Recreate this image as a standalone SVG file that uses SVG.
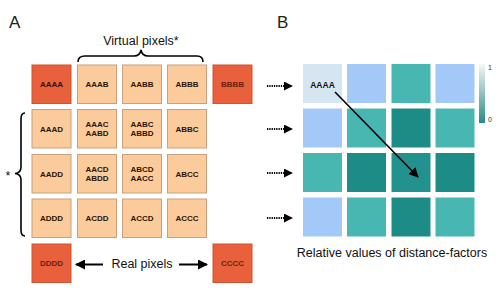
<svg xmlns="http://www.w3.org/2000/svg" width="500" height="294" viewBox="0 0 500 294">
<defs>
<style>
text{font-family:"Liberation Sans",Arial,sans-serif;}
.lbl{font-size:8px;font-weight:bold;fill:#2a1408;text-anchor:middle;}
.dlbl{font-size:8px;font-weight:bold;fill:#6a1e0c;text-anchor:middle;}
.lo{fill:#FCCB9B;stroke:#C9A07C;stroke-width:1;}
.dk{fill:#E8603C;stroke:#D0522F;stroke-width:1;}
.big{font-size:17px;fill:#222;}
.cap{font-size:12.5px;fill:#111;}
.b0{fill:#D5E6F2}.b1{fill:#A2C9F7}.b2{fill:#48B7B1}.b3{fill:#1D8B86}.b4{fill:#23928E}
</style>
<marker id="ah" viewBox="0 0 10 10" refX="9" refY="5" markerWidth="10" markerHeight="10" markerUnits="userSpaceOnUse" orient="auto">
<path d="M0,0 L10,5 L0,10 z" fill="#000"/>
</marker>
<marker id="ah2" viewBox="0 0 10 10" refX="9" refY="5" markerWidth="9" markerHeight="9" markerUnits="userSpaceOnUse" orient="auto">
<path d="M0,0 L10,5 L0,10 z" fill="#000"/>
</marker>
<linearGradient id="cb" x1="0" y1="0" x2="0" y2="1">
<stop offset="0" stop-color="#F4F7F7"/>
<stop offset="1" stop-color="#2A8A84"/>
</linearGradient>
</defs>
<rect width="500" height="294" fill="#fff"/>
<text class="big" x="9" y="28">A</text>
<text class="big" x="277" y="28">B</text>
<text class="cap" x="141" y="45" text-anchor="middle">Virtual pixels*</text>
<path d="M78,62 Q78,56 85,56 L134,56 Q140,56 141,50 Q142,56 148,56 L197,56 Q203,56 203,62" fill="none" stroke="#000" stroke-width="1.6"/>
<path d="M25,113 Q21,113 21,119 L21,167 Q21,173 15,173.5 Q21,174 21,180 L21,230 Q21,236 25,236" fill="none" stroke="#000" stroke-width="1.6"/>
<text class="cap" x="8" y="180" text-anchor="middle">*</text>
<g id="panelA">
<g id="AAAA"><rect class="dk" x="32" y="65" width="39" height="38.5"/><text class="lbl" x="51.5" y="87">AAAA</text></g>
<g id="AAAB"><rect class="lo" x="77.5" y="65" width="39" height="38.5"/><text class="lbl" x="97" y="87">AAAB</text></g>
<g id="AABB"><rect class="lo" x="122.5" y="65" width="39" height="38.5"/><text class="lbl" x="142" y="87">AABB</text></g>
<g id="ABBB"><rect class="lo" x="167.5" y="65" width="39" height="38.5"/><text class="lbl" x="187" y="87">ABBB</text></g>
<g id="BBBB"><rect class="dk" x="213" y="65" width="39" height="38.5"/><text class="dlbl" x="232.5" y="87">BBBB</text></g>
<g id="AAAD"><rect class="lo" x="32" y="109.5" width="39" height="38.5"/><text class="lbl" x="51.5" y="131.5">AAAD</text></g>
<g id="AAAC"><rect class="lo" x="77.5" y="109.5" width="39" height="38.5"/><text class="lbl" x="97" y="127">AAAC</text><text class="lbl" x="97" y="136">AABD</text></g>
<g id="AABC"><rect class="lo" x="122.5" y="109.5" width="39" height="38.5"/><text class="lbl" x="142" y="127">AABC</text><text class="lbl" x="142" y="136">ABBD</text></g>
<g id="ABBC"><rect class="lo" x="167.5" y="109.5" width="39" height="38.5"/><text class="lbl" x="187" y="131.5">ABBC</text></g>
<g id="AADD"><rect class="lo" x="32" y="154.5" width="39" height="38.5"/><text class="lbl" x="51.5" y="176.5">AADD</text></g>
<g id="AACD"><rect class="lo" x="77.5" y="154.5" width="39" height="38.5"/><text class="lbl" x="97" y="172">AACD</text><text class="lbl" x="97" y="181">ABDD</text></g>
<g id="ABCD"><rect class="lo" x="122.5" y="154.5" width="39" height="38.5"/><text class="lbl" x="142" y="172">ABCD</text><text class="lbl" x="142" y="181">AACC</text></g>
<g id="ABCC"><rect class="lo" x="167.5" y="154.5" width="39" height="38.5"/><text class="lbl" x="187" y="176.5">ABCC</text></g>
<g id="ADDD"><rect class="lo" x="32" y="199" width="39" height="38.5"/><text class="lbl" x="51.5" y="221">ADDD</text></g>
<g id="ACDD"><rect class="lo" x="77.5" y="199" width="39" height="38.5"/><text class="lbl" x="97" y="221">ACDD</text></g>
<g id="ACCD"><rect class="lo" x="122.5" y="199" width="39" height="38.5"/><text class="lbl" x="142" y="221">ACCD</text></g>
<g id="ACCC"><rect class="lo" x="167.5" y="199" width="39" height="38.5"/><text class="lbl" x="187" y="221">ACCC</text></g>
<g id="DDDD"><rect class="dk" x="32" y="244" width="39" height="38.5"/><text class="dlbl" x="51.5" y="266">DDDD</text></g>
<g id="CCCC"><rect class="dk" x="213" y="244" width="39" height="38.5"/><text class="dlbl" x="232.5" y="266">CCCC</text></g>
</g>
<text class="cap" x="142" y="268" text-anchor="middle">Real pixels</text>
<g id="panelB">
<rect class="b0" x="303" y="64" width="39" height="39"/>
<rect class="b1" x="347" y="64" width="39" height="39"/>
<rect class="b2" x="391.5" y="64" width="39" height="39"/>
<rect class="b1" x="435.5" y="64" width="39" height="39"/>
<rect class="b1" x="303" y="108.5" width="39" height="39"/>
<rect class="b2" x="347" y="108.5" width="39" height="39"/>
<rect class="b3" x="391.5" y="108.5" width="39" height="39"/>
<rect class="b2" x="435.5" y="108.5" width="39" height="39"/>
<rect class="b2" x="303" y="153" width="39" height="39"/>
<rect class="b3" x="347" y="153" width="39" height="39"/>
<rect class="b4" x="391.5" y="153" width="39" height="39"/>
<rect class="b3" x="435.5" y="153" width="39" height="39"/>
<rect class="b1" x="303" y="197.5" width="39" height="39"/>
<rect class="b2" x="347" y="197.5" width="39" height="39"/>
<rect class="b3" x="391.5" y="197.5" width="39" height="39"/>
<rect class="b2" x="435.5" y="197.5" width="39" height="39"/>
<text class="lbl" x="322.5" y="88" style="fill:#111;font-size:8.5px">AAAA</text>
<rect x="479" y="64" width="6" height="59" fill="url(#cb)"/>
<text x="488" y="70" style="font-size:7px;fill:#333">1</text>
<text x="488" y="122" style="font-size:7px;fill:#333">0</text>
</g>
<text class="cap" x="392" y="257" text-anchor="middle">Relative values of distance-factors</text>
<g id="connectors" fill="none" stroke="#000">
<line x1="103" y1="264.5" x2="76" y2="264.5" stroke-width="2" marker-end="url(#ah)"/>
<line x1="179" y1="264.5" x2="207" y2="264.5" stroke-width="2" marker-end="url(#ah)"/>
<line x1="267" y1="86" x2="292" y2="86" stroke-width="2" stroke-dasharray="1.3,1" marker-end="url(#ah2)"/>
<line x1="267" y1="129" x2="292" y2="129" stroke-width="2" stroke-dasharray="1.3,1" marker-end="url(#ah2)"/>
<line x1="267" y1="173" x2="292" y2="173" stroke-width="2" stroke-dasharray="1.3,1" marker-end="url(#ah2)"/>
<line x1="267" y1="218" x2="292" y2="218" stroke-width="2" stroke-dasharray="1.3,1" marker-end="url(#ah2)"/>
<line x1="335" y1="92" x2="418" y2="177" stroke-width="1.6" marker-end="url(#ah)"/>
</g>
</svg>
